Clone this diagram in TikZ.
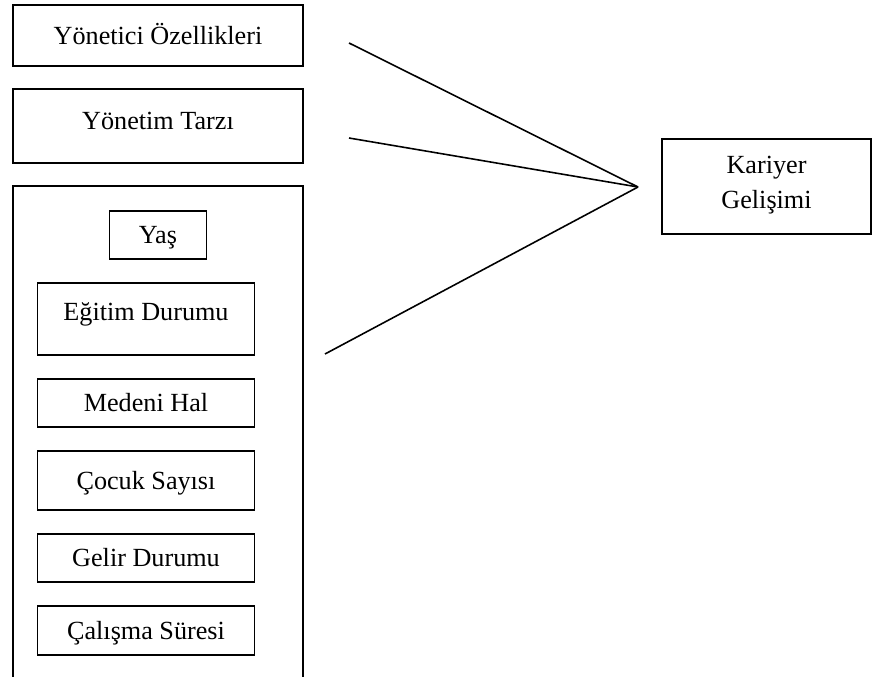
\documentclass[tikz,border=0pt]{standalone}
\usepackage{fontspec}
\setmainfont{Liberation Serif}
\usetikzlibrary{positioning}

\begin{document}
\begin{tikzpicture}[
  x=0.02cm, y=-0.02cm,
  font=\fontsize{14.9}{19.9}\selectfont,
  node distance=0.48cm,
  line width=1pt,
  every node/.style={outer sep=0pt},
  kutu/.style={draw, align=center, inner sep=2pt, text height=1em, text depth=0pt},
  dis/.style={kutu, minimum width=5.8cm},
  ic/.style={kutu, minimum width=4.34cm, minimum height=0.96cm},
  bag/.style={line width=0.9pt}
]
\useasboundingbox (0,0) rectangle (874,676);
\clip (0,0) rectangle (874,676);

% left column
\node[dis, minimum height=1.22cm] (yon) at (158,35.5) {Yönetici Özellikleri};
\node[dis, minimum height=1.48cm, text depth=0.6em, below=0.46cm of yon] (tarz) {Yönetim Tarzı};
\node[draw, minimum width=5.8cm, minimum height=10.8cm, below=0.46cm of tarz] (grup) {};

% demographic boxes
\node[kutu, minimum width=1.94cm, minimum height=0.96cm, below=0.5cm of grup.north] (yas) {Yaş};
\node[ic, minimum height=1.44cm, text depth=0.85em, below=of yas, xshift=-0.24cm] (egitim) {Eğitim Durumu};
\node[ic, below=of egitim] (medeni) {Medeni Hal};
\node[ic, minimum height=1.18cm, below=of medeni] (cocuk) {Çocuk Sayısı};
\node[ic, below=of cocuk] (gelir) {Gelir Durumu};
\node[ic, minimum height=0.98cm, below=of gelir] (calisma) {Çalışma Süresi};

% outcome
\node[draw, align=center, inner sep=2pt, text depth=4.5pt, minimum width=4.18cm, minimum height=1.9cm] (kariyer) at (766.5,186.5) {Kariyer\\ Gelişimi};

\coordinate (uc) at (638,187);
\coordinate (a1) at (349,43);
\coordinate (a2) at (349,138);
\coordinate (a3) at (325,354);

\draw[bag] (a1) -- (uc);
\draw[bag] (a2) -- (uc);
\draw[bag] (a3) -- (uc);
\end{tikzpicture}
\end{document}
